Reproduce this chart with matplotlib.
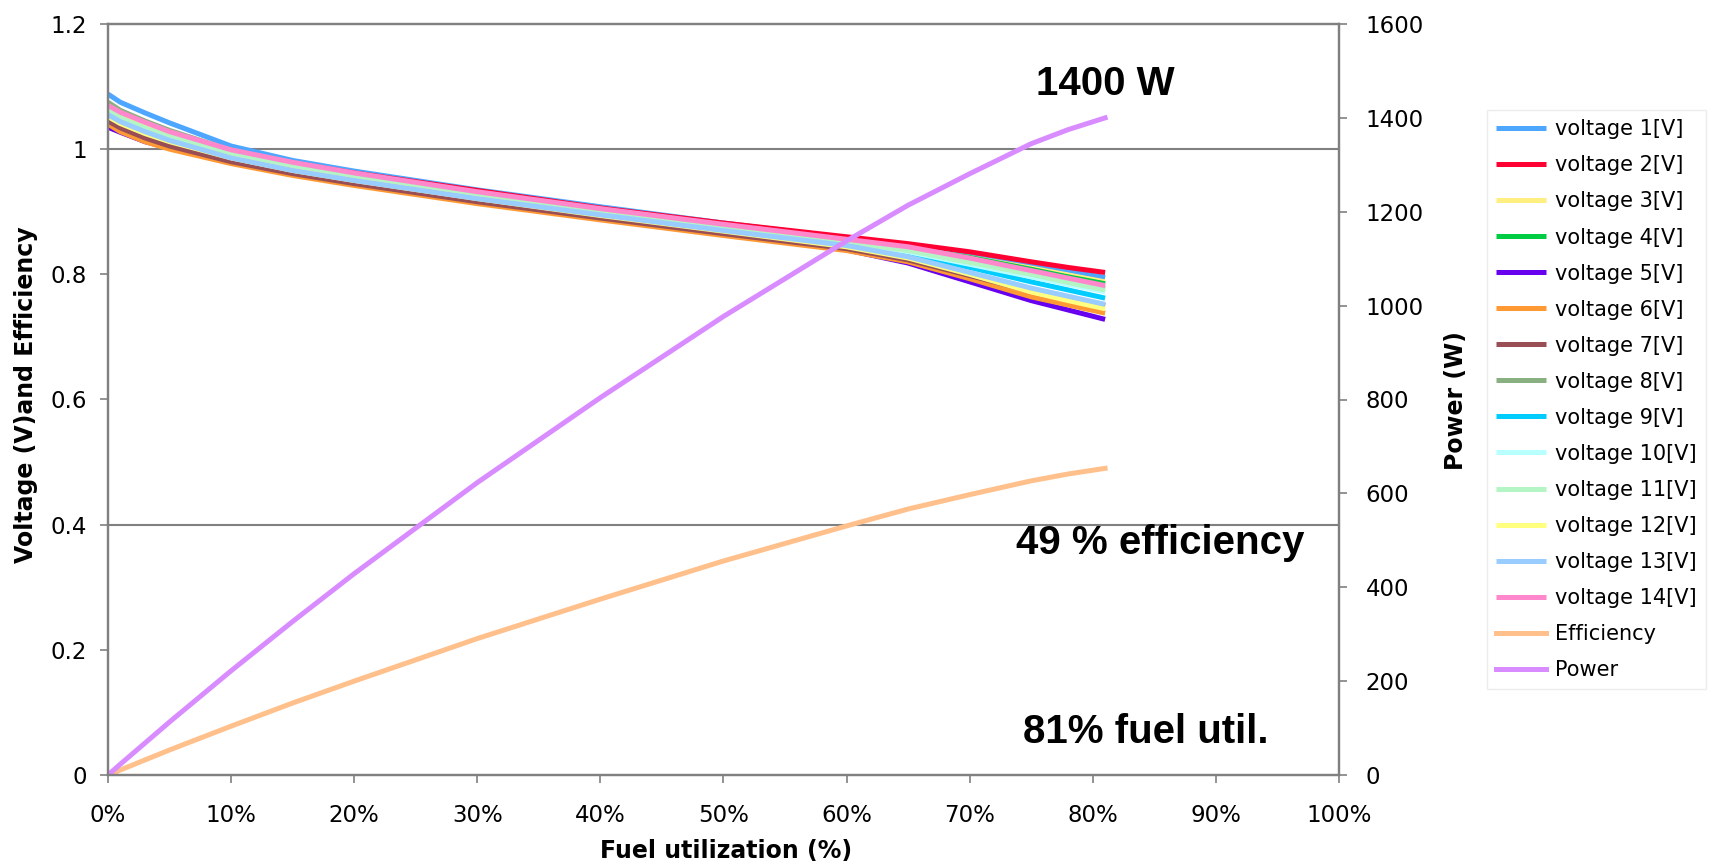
import matplotlib
matplotlib.use("Agg")
import matplotlib.pyplot as plt
from matplotlib.ticker import FuncFormatter, MultipleLocator

# fuel utilization sample points (%)
util = [0, 1, 3, 5, 10, 15, 20, 30, 40, 50, 60, 65, 70, 75, 78, 81]

# cell voltages [V] at each utilization point
voltage_1 = [1.088, 1.075, 1.058, 1.042, 1.005, 0.982, 0.965, 0.935, 0.908, 0.882, 0.858, 0.846, 0.832, 0.814, 0.805, 0.795]
voltage_2 = [1.048, 1.040, 1.028, 1.016, 0.995, 0.978, 0.962, 0.934, 0.906, 0.882, 0.860, 0.849, 0.836, 0.820, 0.811, 0.803]
voltage_3 = [1.065, 1.054, 1.038, 1.024, 0.994, 0.974, 0.957, 0.928, 0.901, 0.876, 0.852, 0.841, 0.827, 0.810, 0.799, 0.788]
voltage_4 = [1.040, 1.034, 1.024, 1.013, 0.990, 0.972, 0.956, 0.928, 0.901, 0.876, 0.853, 0.842, 0.827, 0.808, 0.796, 0.785]
voltage_5 = [1.035, 1.027, 1.012, 1.002, 0.978, 0.960, 0.944, 0.916, 0.890, 0.864, 0.839, 0.818, 0.788, 0.758, 0.743, 0.728]
voltage_6 = [1.040, 1.028, 1.012, 1.000, 0.977, 0.958, 0.942, 0.913, 0.887, 0.862, 0.838, 0.820, 0.793, 0.764, 0.751, 0.738]
voltage_7 = [1.045, 1.034, 1.018, 1.005, 0.980, 0.961, 0.945, 0.916, 0.890, 0.865, 0.841, 0.823, 0.798, 0.773, 0.761, 0.750]
voltage_8 = [1.075, 1.062, 1.045, 1.030, 0.998, 0.977, 0.960, 0.930, 0.903, 0.878, 0.855, 0.842, 0.824, 0.803, 0.790, 0.778]
voltage_9 = [1.060, 1.049, 1.032, 1.018, 0.990, 0.970, 0.953, 0.924, 0.897, 0.872, 0.849, 0.833, 0.811, 0.788, 0.775, 0.762]
voltage_10 = [1.058, 1.047, 1.031, 1.017, 0.989, 0.970, 0.953, 0.924, 0.898, 0.873, 0.850, 0.836, 0.816, 0.796, 0.784, 0.772]
voltage_11 = [1.062, 1.050, 1.034, 1.020, 0.992, 0.972, 0.955, 0.926, 0.899, 0.874, 0.851, 0.838, 0.819, 0.800, 0.787, 0.775]
voltage_12 = [1.052, 1.041, 1.025, 1.012, 0.986, 0.966, 0.950, 0.921, 0.894, 0.869, 0.844, 0.826, 0.800, 0.772, 0.758, 0.745]
voltage_13 = [1.055, 1.044, 1.028, 1.014, 0.986, 0.966, 0.950, 0.921, 0.895, 0.870, 0.846, 0.828, 0.803, 0.778, 0.765, 0.752]
voltage_14 = [1.070, 1.059, 1.043, 1.028, 0.999, 0.979, 0.962, 0.932, 0.905, 0.880, 0.856, 0.844, 0.826, 0.806, 0.794, 0.782]

voltages = [voltage_1, voltage_2, voltage_3, voltage_4, voltage_5, voltage_6, voltage_7,
            voltage_8, voltage_9, voltage_10, voltage_11, voltage_12, voltage_13, voltage_14]
voltage_labels = [f"voltage {i}[V]" for i in range(1, 15)]
voltage_colors = ["#4da6ff", "#ff0033", "#ffee80", "#00cc44", "#6600ee", "#ff9933", "#994d55",
                  "#88b080", "#00ccff", "#b8ffff", "#b3f5c4", "#ffff80", "#99ccff", "#ff88cc"]

# stack efficiency and electrical power output
efficiency = [0.0, 0.008, 0.024, 0.040, 0.078, 0.115, 0.150, 0.218, 0.281, 0.342, 0.398, 0.425, 0.448, 0.470, 0.481, 0.490]
power = [0, 23, 68, 113, 222, 327, 429, 623, 804, 977, 1138, 1214, 1281, 1345, 1375, 1400]

x_ticks = list(range(0, 101, 10))

W, H = 1724, 864
fig = plt.figure(figsize=(W / 100, H / 100), dpi=100)
ax = fig.add_axes([108 / W, 1 - 775 / H, (1339 - 108) / W, (775 - 24) / H])
ax2 = ax.twinx()

frame = "#808080"
lines = []
for vals, lab, col in zip(voltages, voltage_labels, voltage_colors):
    ln, = ax.plot(util, vals, color=col, lw=3.6, label=lab, solid_capstyle="butt")
    lines.append(ln)
ln, = ax.plot(util, efficiency, color="#ffc08c", lw=3.6, label="Efficiency")
lines.append(ln)
ln, = ax2.plot(util, power, color="#d98cff", lw=3.6, label="Power")
lines.append(ln)

ax.set_xlim(0, 100)
ax.set_ylim(0, 1.2)
ax2.set_ylim(0, 1600)
ax.set_xticks(x_ticks)
ax.xaxis.set_major_formatter(FuncFormatter(lambda v, p: f"{int(v)}%"))
ax.yaxis.set_major_locator(MultipleLocator(0.2))
ax.yaxis.set_major_formatter(FuncFormatter(lambda v, p: "0" if v == 0 else ("1" if abs(v - 1) < 1e-9 else f"{v:.1f}")))
ax2.yaxis.set_major_locator(MultipleLocator(200))

for g in (1.0, 0.4):
    ax.axhline(g, color=frame, lw=1.5, zorder=0.5)

for a in (ax, ax2):
    for s in a.spines.values():
        s.set_color(frame)
        s.set_linewidth(1.6)
    a.tick_params(colors=frame, labelcolor="black", labelsize=16.5, length=6, width=1.2)
ax.tick_params(axis="x", pad=15)
ax.tick_params(axis="y", pad=9)
ax2.tick_params(axis="y", pad=13)

lab = dict(ha="center", va="center", fontsize=17, fontweight="bold")
fig.text(26 / W, 1 - 395 / H, "Voltage (V)and Efficiency", rotation=90, **lab)
fig.text(1456 / W, 1 - 401 / H, "Power (W)", rotation=90, **lab)
fig.text(726 / W, 1 - 851 / H, "Fuel utilization (%)", **lab)

ann = dict(ha="center", va="center", fontsize=29, fontweight="bold", family="Liberation Sans")
fig.text(1105 / W, 1 - 84 / H, "1400 W", **ann)
fig.text(1160 / W, 1 - 543 / H, "49 % efficiency", **ann)
fig.text(1146 / W, 1 - 732 / H, "81% fuel util.", **ann)

leg = fig.legend(handles=lines, loc="upper left", bbox_to_anchor=(1487 / W, 1 - 110 / H),
                 fontsize=15, frameon=True, fancybox=False, handlelength=2.4, handletextpad=0.4,
                 labelspacing=0.77, borderpad=0.45, borderaxespad=0)
leg.get_frame().set_edgecolor("#e8e8e8")
leg.get_frame().set_linewidth(1.0)

fig.savefig("out.png", dpi=100)
